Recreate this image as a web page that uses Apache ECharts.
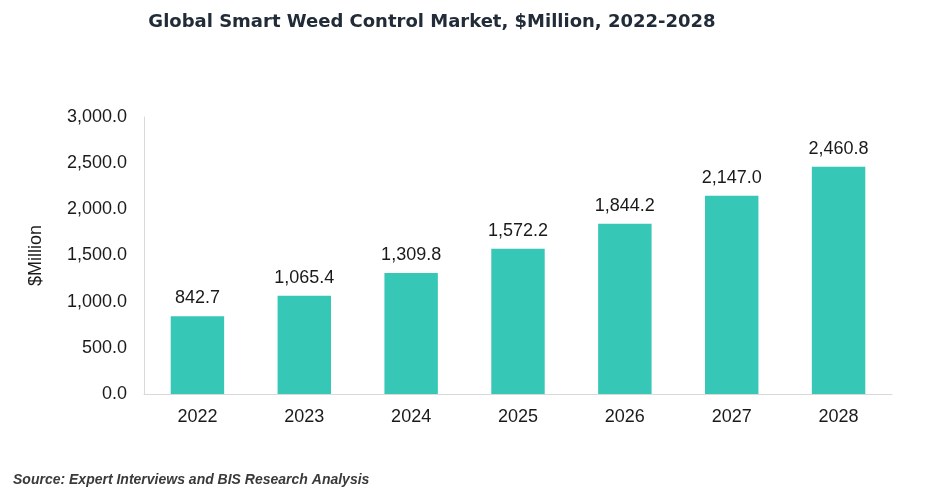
<!DOCTYPE html>
<html><head><meta charset="utf-8">
<script src="https://cdn.jsdelivr.net/npm/echarts@6/dist/echarts.min.js"></script>
<style>html,body{margin:0;padding:0;background:#fff}#c{width:931px;height:494px}</style>
</head><body><div id="c"></div>
<script>
const categories = ['2022','2023','2024','2025','2026','2027','2028'];
const values = [842.7, 1065.4, 1309.8, 1572.2, 1844.2, 2147.0, 2460.8];
const yTicks = [0, 500, 1000, 1500, 2000, 2500, 3000];

const fmt = v => Number(v).toLocaleString('en-US', {minimumFractionDigits:1, maximumFractionDigits:1});
const chart = echarts.init(document.getElementById('c'));
chart.setOption({
  animation: false,
  backgroundColor: '#fff',
  title: [{
    text: 'Global Smart Weed Control Market, $Million, 2022-2028',
    left: 427, top: 8, textAlign: 'center',
    textStyle: {fontFamily: 'DejaVu Sans', fontWeight: 'bold', fontSize: 18, color: '#222c38'}
  }, {
    text: 'Source: Expert Interviews and BIS Research Analysis',
    left: 8, top: 468,
    textStyle: {fontFamily: 'Liberation Sans', fontWeight: 'bold', fontStyle: 'italic', fontSize: 14, color: '#3a3a3a'}
  }],
  grid: {left: 144, right: 39, top: 117, bottom: 100},
  xAxis: {
    type: 'category', data: categories,
    axisLine: {lineStyle: {color: '#d9d9d9', width: 1}},
    axisTick: {show: false},
    axisLabel: {fontFamily: 'Liberation Sans', fontSize: 18, color: '#1a1a1a', margin: 14}
  },
  yAxis: {
    type: 'value', min: yTicks[0], max: yTicks[yTicks.length-1], interval: 500,
    name: '$Million', nameLocation: 'middle', nameGap: 99,
    nameTextStyle: {fontFamily: 'Liberation Sans', fontSize: 18, color: '#1a1a1a'},
    axisLine: {show: true, lineStyle: {color: '#d9d9d9', width: 1}},
    axisTick: {show: false},
    splitLine: {show: false},
    axisLabel: {fontFamily: 'Liberation Sans', fontSize: 18, color: '#1a1a1a', margin: 17, formatter: v => fmt(v)}
  },
  series: [{
    type: 'bar', data: values, barWidth: '50%',
    itemStyle: {color: '#37c7b6'},
    label: {show: true, position: 'top', distance: 9, fontFamily: 'Liberation Sans', fontSize: 18, color: '#1a1a1a', formatter: p => fmt(p.value)}
  }]
});
</script></body></html>
